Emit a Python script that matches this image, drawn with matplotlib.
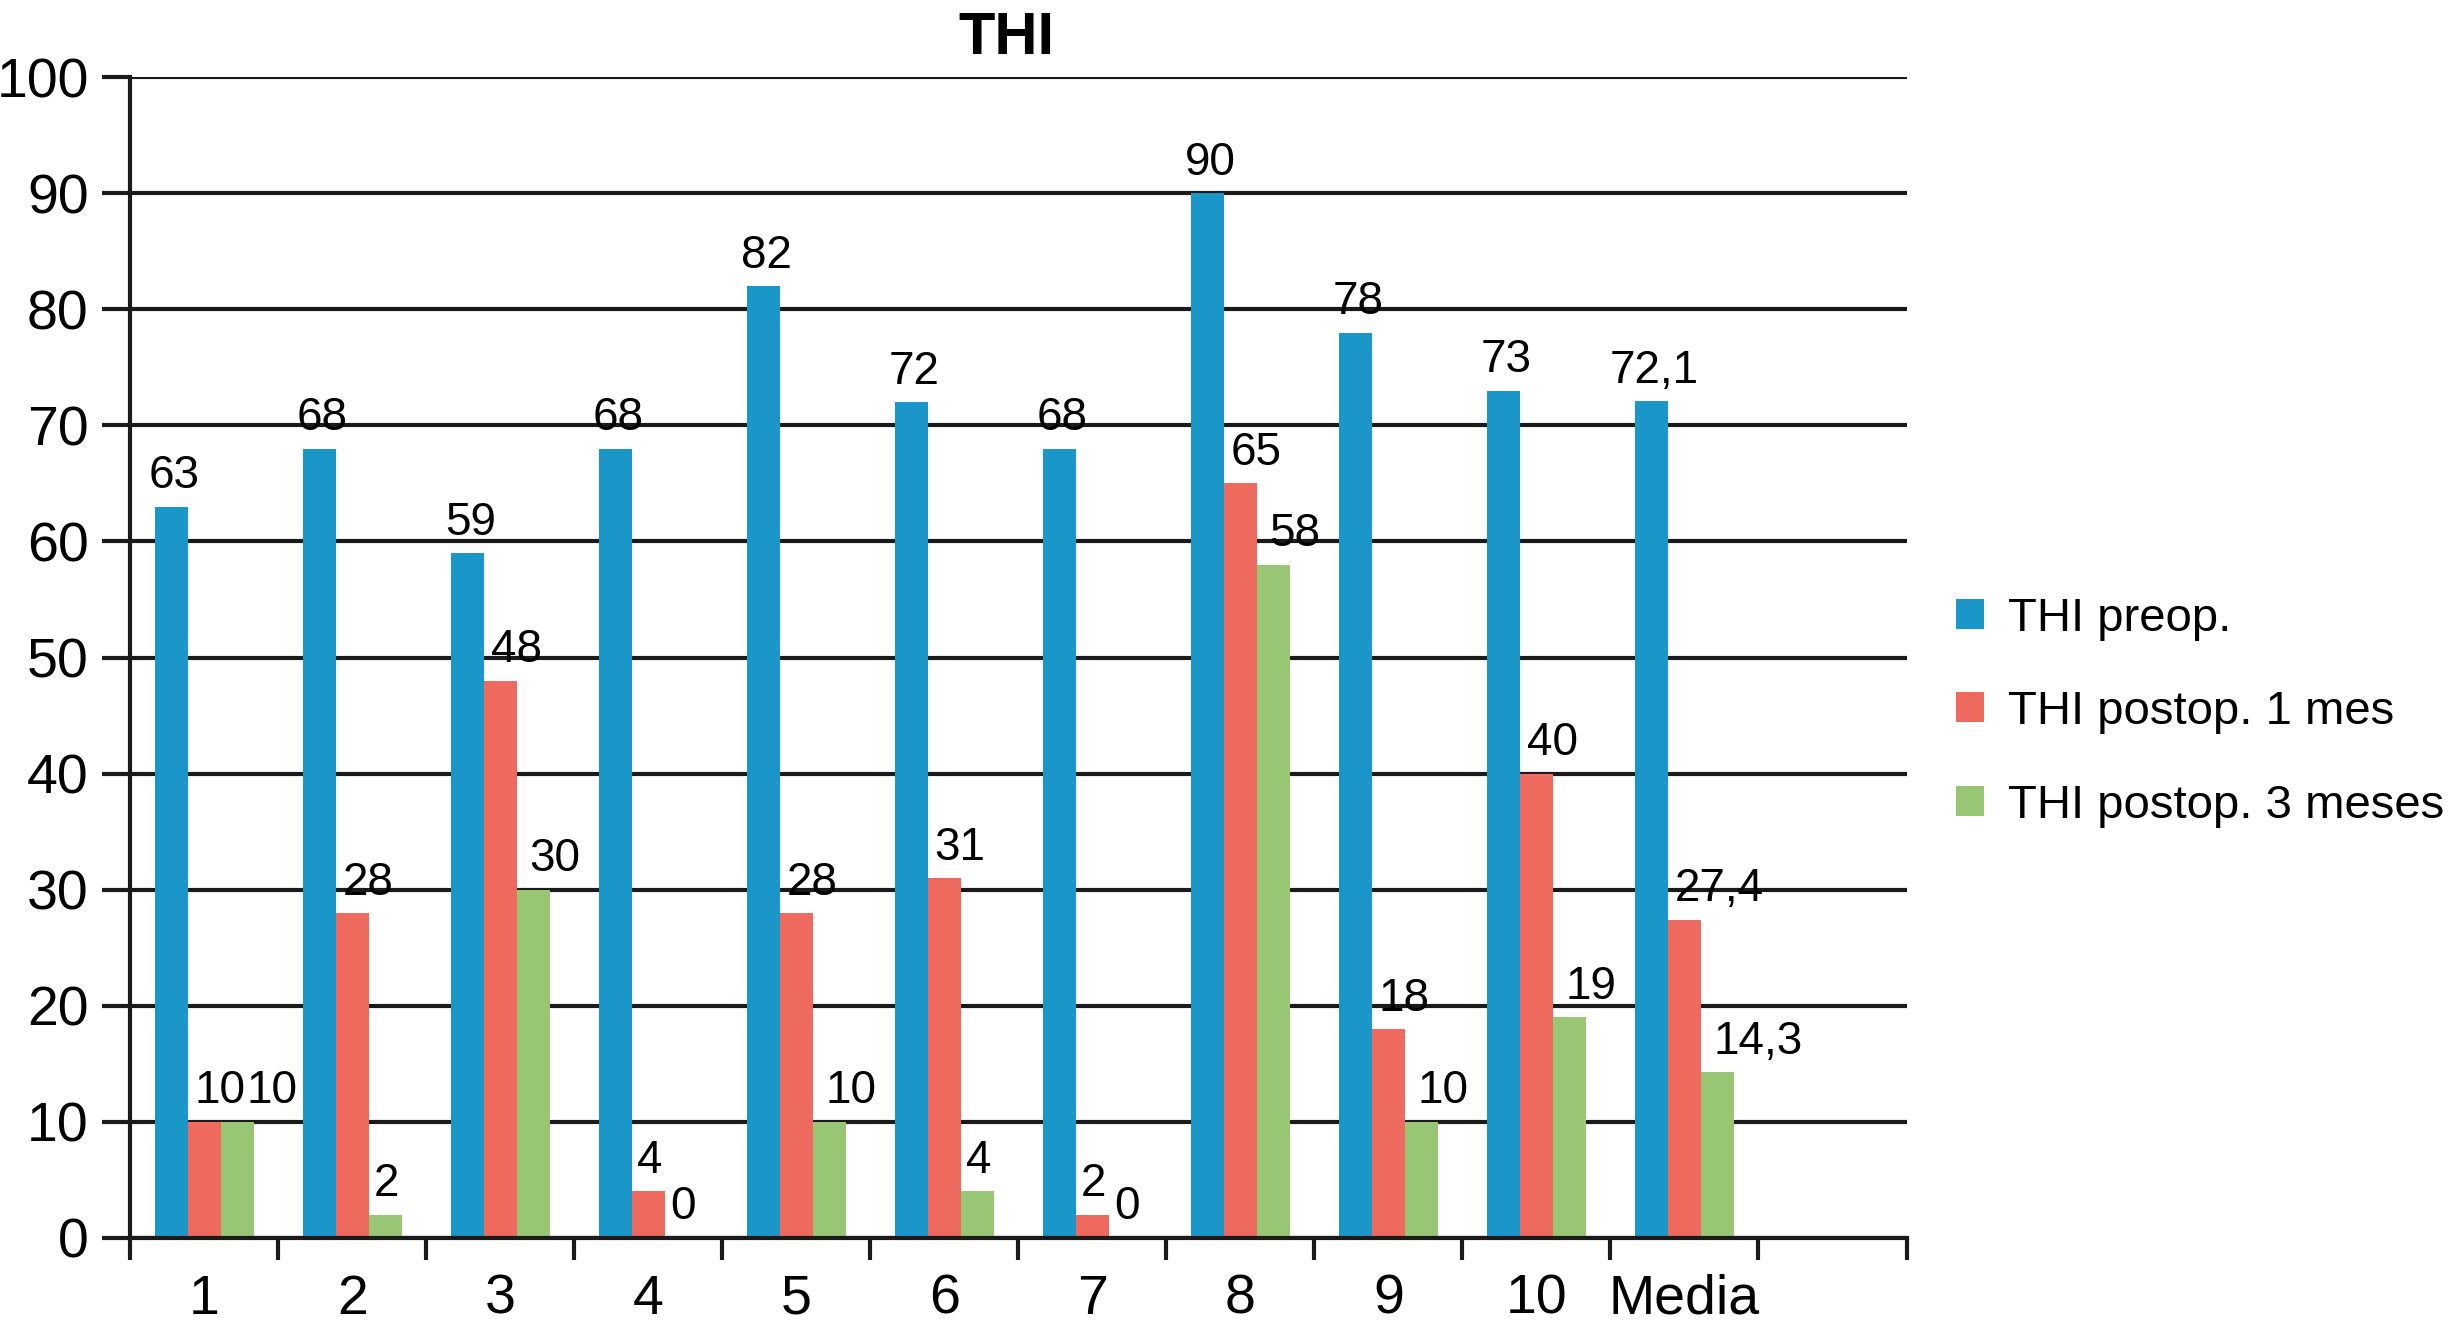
import numpy as np
import matplotlib
matplotlib.use("Agg")
import matplotlib.pyplot as plt

# chart data
categories = ["1", "2", "3", "4", "5", "6", "7", "8", "9", "10", "Media", ""]
preop = [63, 68, 59, 68, 82, 72, 68, 90, 78, 73, 72.1]
postop_1 = [10, 28, 48, 4, 28, 31, 2, 65, 18, 40, 27.4]
postop_3 = [10, 2, 30, 0, 10, 4, 0, 58, 10, 19, 14.3]
series_names = ["THI preop.", "THI postop. 1 mes", "THI postop. 3 meses"]
colors = ["#1A96C8", "#EE6A5F", "#98C674"]

plt.rcParams["font.family"] = ["Liberation Sans", "DejaVu Sans"]

fig = plt.figure(figsize=(24.6, 13.31), dpi=100)
ax = fig.add_axes([0.053, 0.070, 0.722, 0.872])

width = 0.223
x = np.arange(len(preop)) + 0.5


def fmt(v):
	if float(v).is_integer():
		return str(int(v))
	return ("%.1f" % v).replace(".", ",")


# label placement per series: (ha, x offset in points)
label_style = [("center", 2), ("left", -7), ("left", -3)]
labels = []

for k, (vals, name, col) in enumerate(zip([preop, postop_1, postop_3], series_names, colors)):
	pos = x + (k - 1) * width
	ax.bar(pos, vals, width, color=col, label=name, zorder=3)
	ha, dx = label_style[k]
	row = []
	for p, v in zip(pos, vals):
		txt = fmt(v)
		if ha == "left" and len(txt) == 1:
			t = ax.annotate(txt, (p, v), xytext=(1, 6), textcoords="offset points",
				ha="center", va="bottom", fontsize=33, zorder=4)
		else:
			t = ax.annotate(txt, (p, v), xytext=(dx, 6), textcoords="offset points",
				ha=ha, va="bottom", fontsize=33, zorder=4)
		row.append(t)
	labels.append(row)

# push a label right when it runs into its neighbour (like "1010" in group 1)
fig.canvas.draw()
r = fig.canvas.get_renderer()
for a, b in zip(labels[1], labels[2]):
	ea = a.get_window_extent(r)
	eb = b.get_window_extent(r)
	if ea.y1 > eb.y0 and eb.y1 > ea.y0 and ea.x1 > eb.x0:
		shift = (ea.x1 - eb.x0 + 2) * 72 / fig.dpi
		ox, oy = b.xyann
		b.xyann = (ox + shift, oy)

ax.set_xlim(0, len(categories))
ax.set_ylim(0, 100)
ax.set_yticks(np.arange(0, 101, 10))
ax.yaxis.grid(True, color="#1a1a1a", linewidth=3, zorder=1)
ax.set_axisbelow(True)

ax.set_xticks(np.arange(0, len(categories) + 1))
ax.set_xticklabels([])
ax.set_xticks(np.arange(len(categories)) + 0.5, minor=True)
ax.set_xticklabels(categories, minor=True)
ax.tick_params(axis="x", which="major", length=16, width=3, direction="out", color="#1a1a1a")
ax.tick_params(axis="x", which="minor", length=0, labelsize=40, pad=26)
ax.tick_params(axis="y", length=20, width=3, labelsize=40, pad=10, color="#1a1a1a")

for s in ["top", "right"]:
	ax.spines[s].set_visible(False)
for s in ["left", "bottom"]:
	ax.spines[s].set_linewidth(3)
	ax.spines[s].set_color("#1a1a1a")
	ax.spines[s].set_zorder(5)

fig.text(0.409, 0.992, "THI", ha="center", va="top", fontsize=43, fontweight="bold")

fig.legend(loc="center left", bbox_to_anchor=(0.795, 0.465), frameon=False,
	fontsize=34, handlelength=0.6, handleheight=0.6, handletextpad=0.5,
	labelspacing=1.05, borderpad=0, borderaxespad=0)

fig.savefig("out.png", dpi=100)
